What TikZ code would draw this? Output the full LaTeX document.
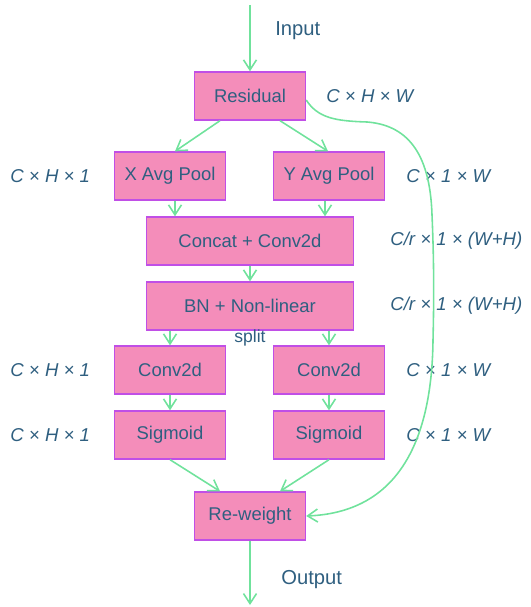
\documentclass[tikz,border=0pt]{standalone}
\usepackage{fontspec}
\setmainfont{Liberation Sans}
\usepackage{xcolor}
\usepackage{tikz}
\usetikzlibrary{arrows.meta,positioning}

\definecolor{boxfill}{HTML}{F48DBA}
\definecolor{boxline}{HTML}{C04FE6}
\definecolor{flow}{HTML}{70E29C}
\definecolor{ink}{HTML}{2F5F80}

\begin{document}
\begin{tikzpicture}[
      x=0.02cm, y=-0.02cm,
      box/.style={draw=boxline, fill=boxfill, line width=0.8pt, minimum width=2.22cm, minimum height=0.96cm, text=ink, font=\fontsize{10.5}{12}\selectfont},
      wide/.style={box, minimum width=4.14cm},
      dim/.style={anchor=west, text=ink, inner sep=0pt, font=\fontsize{10.6}{12}\selectfont\itshape},
      io/.style={anchor=west, text=ink, inner sep=0pt, font=\fontsize{11.5}{13}\selectfont},
      arr/.style={-{Straight Barb[length=2mm, width=2.6mm]}, draw=flow, line width=0.9pt}
    ]
      \useasboundingbox (0,0) rectangle (530,607);

      \coordinate (in) at (250,5);
      \coordinate (out) at (250,605);

      \node[box] (res) at (250,96) {Residual};
      \node[box] (xpool) at (170,176) {X Avg Pool};
      \node[box] (ypool) at (329,176) {Y Avg Pool};
      \node[wide] (cat) at (250,241) {Concat + Conv2d};
      \node[wide] (bn) at (250,306) {BN + Non-linear};
      \node[box] (convx) at (170,370) {Conv2d};
      \node[box] (convy) at (329,370) {Conv2d};
      \node[box] (sigx) at (170,435) {Sigmoid};
      \node[box] (sigy) at (329,435) {Sigmoid};
      \node[box] (rew) at (250,516) {Re-weight};

      % labels
      \node[io] (inlbl) at (275,31) {Input};
      \node[io] (outlbl) at (281,580) {Output};
      \node[text=ink, font=\fontsize{10}{12}\selectfont] (split) at (250,338) {split};

      \node[dim] (d0) at (326,96) {C × H × W};
      \node[dim] (d1) at (10,176) {C × H × 1};
      \node[dim] (d2) at (406,176) {C × 1 × W};
      \node[dim] (d3) at (390,241) {C/r × 1 × (W+H)};
      \node[dim] (d4) at (390,306) {C/r × 1 × (W+H)};
      \node[dim] (d5) at (10,370) {C × H × 1};
      \node[dim] (d6) at (406,370) {C × 1 × W};
      \node[dim] (d7) at (10,435) {C × H × 1};
      \node[dim] (d8) at (406,435) {C × 1 × W};

      \draw[arr] (in) -- (res);
      \draw[arr] ([xshift=-0.6cm]res.south) -- ([xshift=0.1cm]xpool.north);
      \draw[arr] ([xshift=0.6cm]res.south) -- ([xshift=-0.02cm]ypool.north);
      \draw[arr] ([xshift=0.1cm]xpool.south) -- ([xshift=0.1cm]xpool.south |- cat.north);
      \draw[arr] ([xshift=-0.08cm]ypool.south) -- ([xshift=-0.08cm]ypool.south |- cat.north);
      \draw[arr] (cat) -- (bn);
      \draw[arr] (bn.south -| convx) -- (convx);
      \draw[arr] (bn.south -| convy) -- (convy);
      \draw[arr] (convx) -- (sigx);
      \draw[arr] (convy) -- (sigy);
      \draw[arr] (sigx.south) -- ([xshift=-0.6cm]rew.north);
      \draw[arr] (sigy.south) -- ([xshift=0.6cm]rew.north);
      \draw[arr] (rew) -- (out);

      % shortcut from residual to re-weight
      \draw[arr] ([yshift=-0.08cm]res.east) .. controls (318,118) and (335,121) .. (367,122)
        .. controls (405,125) and (430,150) .. (432,215)
        .. controls (434,260) and (434,300) .. (433,340)
        .. controls (432,430) and (405,512) .. (rew.east);
    \end{tikzpicture}
\end{document}
